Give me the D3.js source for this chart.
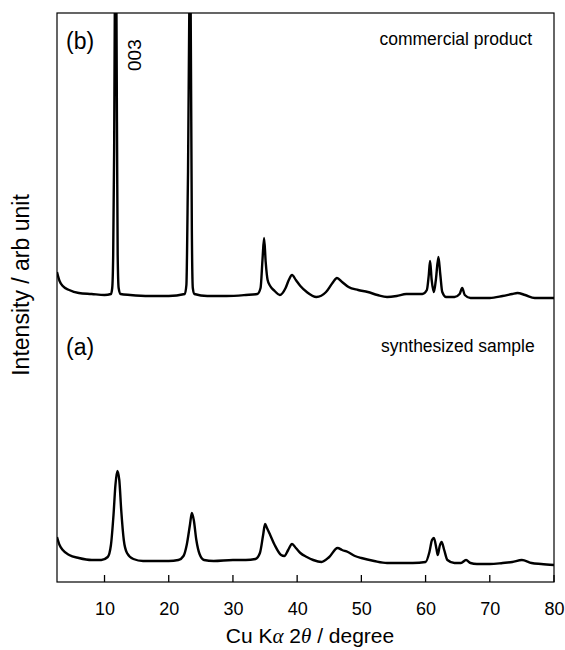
<!DOCTYPE html>
<html>
<head>
<meta charset="utf-8">
<script src="https://cdn.jsdelivr.net/npm/d3@7"></script>
<style>
  html, body { margin: 0; padding: 0; background: #fff; }
  svg { display: block; font-family: "Liberation Sans", Arial, sans-serif; }
</style>
</head>
<body>
<svg id="chart" width="565" height="650"></svg>
<script>
// ---- data (2θ in degree, intensity in arbitrary units) ----
const twoTheta_a = [2.6,3.0,3.5,4.5,6,8,9.5,10.5,11.0,11.4,11.7,12.0,12.3,12.6,13.0,13.5,14.5,16,18,20,21.5,22.3,22.8,23.3,23.6,23.9,24.3,24.8,25.5,27,30,32,33.5,34.2,34.7,35.0,35.3,35.8,36.5,37.5,38.0,38.6,39.2,39.8,40.5,41.5,42.5,43.8,45,46.3,47.0,47.9,49,50,52,54,56,58,60,60.6,61.0,61.3,61.7,61.9,62.2,62.5,62.9,63.4,64.5,65.5,66.3,67.0,68,70,72,73.5,75,76.5,78,80];
const intensity_a = [45,37,32,27,24,22,22,25,37,67,97,111,102,72,42,29,23,21,21,21,22,26,37,57,69,62,42,28,22,21,22,22,23,29,47,58,54,47,37,27,26,32,38,34,29,25,22,20,25,34,32,30,26,24,21,19,19,19,20,30,42,44,33,27,36,40,32,22,19,19,22,19,18,18,19,20,22,19,18,17];

const twoTheta_b = [2.6,3.0,3.5,4.5,6,8,10,11.0,11.2,11.35,11.5,11.6,11.73,11.86,11.96,12.05,12.2,12.5,14,17,20,22.5,22.75,22.95,23.2,23.3,23.42,23.6,23.75,24.0,26,29,32,33.8,34.3,34.6,34.85,35.1,35.4,35.8,36.5,37.3,38.2,38.7,39.2,39.8,40.5,41.5,43,44.5,45.5,46.2,47,48,49.5,51,52.5,54,55.5,57,59.5,60.2,60.5,60.7,60.95,61.3,61.6,62.0,62.3,62.6,63.2,64.5,65.3,65.7,66.1,67,70,72,73.5,74.3,75.5,77,80];
const intensity_b = [310,301,296,292,289,288,287,288,294,327,432,569,882,569,432,327,294,288,287,286,286,288,297,382,569,882,569,352,294,288,286,286,287,288,294,322,344,320,302,296,291,287,294,302,307,302,296,290,285,290,299,304,300,295,292,290,287,285,286,288,288,292,307,321,302,290,302,325,307,290,285,285,288,294,287,284,284,286,288,289,287,284,284];

const xTicks = [10,20,30,40,50,60,70,80];
const xDomain = [2.6, 80];
const yDomain = [0, 569];

const panelLabels = [
  { text: "(b)", x: 4.0, y: 533 },
  { text: "(a)", x: 4.0, y: 227 }
];
const sampleLabels = [
  { text: "commercial product", x: 76.6, y: 537 },
  { text: "synthesized sample", x: 77.0, y: 230 }
];
const peakLabels = [ { text: "003", x: 15.7, y: 511 } ];

// ---- layout ----
const svg = d3.select("#chart");
const m = { left: 57, top: 13, right: 554, bottom: 582 };
const x = d3.scaleLinear().domain(xDomain).range([m.left, m.right]);
const y = d3.scaleLinear().domain(yDomain).range([m.bottom, m.top]);

svg.append("defs").append("clipPath").attr("id", "clip")
  .append("rect").attr("x", m.left).attr("y", m.top)
  .attr("width", m.right - m.left).attr("height", m.bottom - m.top);

const line = d3.line()
  .x(d => x(d[0]))
  .y(d => y(d[1]))
  .curve(d3.curveMonotoneX);

const g = svg.append("g").attr("clip-path", "url(#clip)");
[[twoTheta_a, intensity_a], [twoTheta_b, intensity_b]].forEach(([xs, ys]) => {
  g.append("path")
    .datum(xs.map((v, i) => [v, ys[i]]))
    .attr("d", line)
    .attr("fill", "none")
    .attr("stroke", "#000")
    .attr("stroke-width", 2.4)
    .attr("stroke-linejoin", "round");
});

// frame
svg.append("rect")
  .attr("x", m.left).attr("y", m.top)
  .attr("width", m.right - m.left).attr("height", m.bottom - m.top)
  .attr("fill", "none").attr("stroke", "#000").attr("stroke-width", 1.2);

// x axis: labels via d3 axis, inward tick marks drawn from the same scale
const xAxis = d3.axisBottom(x).tickValues(xTicks).tickSize(0).tickPadding(20).tickFormat(d3.format("d"));
const ax = svg.append("g").attr("transform", `translate(0,${m.bottom})`).call(xAxis);
ax.select(".domain").remove();
ax.selectAll(".tick text").attr("font-size", 18).attr("fill", "#000")
  .attr("font-family", "'Liberation Sans', Arial, sans-serif");
svg.append("g").attr("class", "inner-ticks").selectAll("line").data(xTicks).enter().append("line")
  .attr("x1", d => x(d)).attr("x2", d => x(d))
  .attr("y1", m.bottom).attr("y2", m.bottom - 7)
  .attr("stroke", "#000").attr("stroke-width", 1.3);

// axis titles
const xt = svg.append("text")
  .attr("x", 310).attr("y", 643)
  .attr("text-anchor", "middle").attr("font-size", 21).attr("fill", "#000");
xt.append("tspan").text("Cu K");
xt.append("tspan").attr("font-family", "'Liberation Serif', 'Times New Roman', serif").attr("font-style", "italic").text("α");
xt.append("tspan").text(" 2");
xt.append("tspan").attr("font-family", "'Liberation Serif', 'Times New Roman', serif").attr("font-style", "italic").text("θ");
xt.append("tspan").text(" / degree");

svg.append("text")
  .attr("transform", "translate(29,285) rotate(-90)")
  .attr("text-anchor", "middle").attr("font-size", 23).attr("fill", "#000")
  .text("Intensity / arb unit");

// panel labels
svg.selectAll(".panel").data(panelLabels).enter().append("text")
  .attr("x", d => x(d.x)).attr("y", d => y(d.y))
  .attr("font-size", 23).attr("fill", "#000").text(d => d.text);

svg.selectAll(".sample").data(sampleLabels).enter().append("text")
  .attr("x", d => x(d.x)).attr("y", d => y(d.y))
  .attr("text-anchor", "end").attr("font-size", 17.5).attr("fill", "#000").text(d => d.text);

svg.selectAll(".peak").data(peakLabels).enter().append("text")
  .attr("transform", d => `translate(${x(d.x)},${y(d.y)}) rotate(-90)`)
  .attr("font-size", 19).attr("fill", "#000").text(d => d.text);
</script>
</body>
</html>
